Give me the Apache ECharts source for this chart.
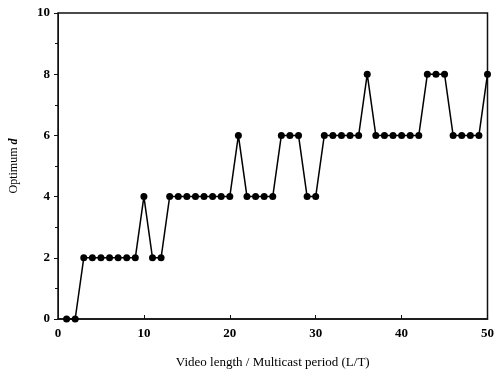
<!DOCTYPE html>
<html><head><meta charset="utf-8">
<script src="https://cdn.jsdelivr.net/npm/echarts@6/dist/echarts.min.js"></script>
<style>html,body{margin:0;padding:0;background:#fff}#c{width:497px;height:376px}</style>
</head><body><div id="c"></div>
<script>
const xValues = [1,2,3,4,5,6,7,8,9,10,11,12,13,14,15,16,17,18,19,20,21,22,23,24,25,26,27,28,29,30,31,32,33,34,35,36,37,38,39,40,41,42,43,44,45,46,47,48,49,50];
const optimumD = [0,0,2,2,2,2,2,2,2,4,2,2,4,4,4,4,4,4,4,4,6,4,4,4,4,6,6,6,4,4,6,6,6,6,6,8,6,6,6,6,6,6,8,8,8,6,6,6,6,8];
const xTicks = [0,10,20,30,40,50];
const yTicks = [0,2,4,6,8,10];

const font = 'Liberation Serif';
const chart = echarts.init(document.getElementById('c'), null, {renderer:'canvas'});
chart.setOption({
  animation:false,
  grid:{left:57,right:7,top:13,bottom:57,show:true,borderColor:'#111',borderWidth:1.5,backgroundColor:'transparent'},
  xAxis:{
    type:'value', min:0, max:50, interval:10,
    name:'Video length / Multicast period (L/T)', nameLocation:'middle', nameGap:37,
    nameTextStyle:{fontFamily:font,fontSize:13,color:'#000'},
    axisLine:{lineStyle:{color:'#111',width:1.5}},
    axisTick:{inside:true,length:4,lineStyle:{color:'#111'}},
    axisLabel:{fontFamily:font,fontSize:13,fontWeight:'bold',color:'#000',margin:8,
      formatter:v=>xTicks.includes(v)?String(v):''},
    splitLine:{show:false}
  },
  yAxis:{
    type:'value', min:0, max:10, interval:2,
    name:'{n|Optimum }{d|d}', nameLocation:'middle', nameGap:38,
    nameTextStyle:{fontFamily:font,fontSize:12,color:'#000',
      rich:{n:{fontFamily:font,fontSize:12,color:'#000'},d:{fontFamily:font,fontSize:12,fontStyle:'italic',fontWeight:'bold',color:'#000'}}},
    axisLine:{show:true,lineStyle:{color:'#111',width:1}},
    axisTick:{show:true,length:4,lineStyle:{color:'#111'}},
    minorTick:{show:true,splitNumber:2,length:3,lineStyle:{color:'#111'}},
    axisLabel:{fontFamily:font,fontSize:13,fontWeight:'bold',color:'#000',margin:8,
      formatter:v=>yTicks.includes(v)?String(v):''},
    splitLine:{show:false}
  },
  series:[{
    type:'line',
    data:xValues.map((x,i)=>[x,optimumD[i]]),
    symbol:'circle', symbolSize:7,
    itemStyle:{color:'#000'},
    lineStyle:{color:'#000',width:1.5},
    clip:false
  }]
});
</script></body></html>
